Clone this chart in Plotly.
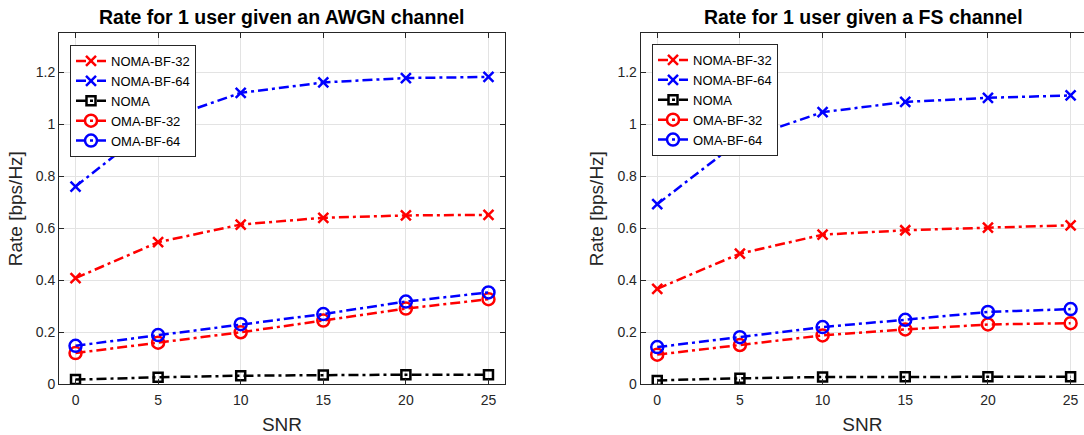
import plotly.graph_objects as go

# SNR points shared by every curve
snr = [0, 5, 10, 15, 20, 25]

# AWGN channel rates [bps/Hz]
awgn_noma_bf32 = [0.408, 0.546, 0.614, 0.640, 0.649, 0.651]
awgn_noma_bf64 = [0.760, 1.010, 1.120, 1.160, 1.177, 1.181]
awgn_noma      = [0.018, 0.027, 0.033, 0.036, 0.037, 0.037]
awgn_oma_bf32  = [0.120, 0.160, 0.200, 0.245, 0.291, 0.327]
awgn_oma_bf64  = [0.148, 0.189, 0.231, 0.270, 0.318, 0.353]

# Frequency-selective channel rates [bps/Hz]
fs_noma_bf32 = [0.367, 0.502, 0.575, 0.592, 0.602, 0.611]
fs_noma_bf64 = [0.692, 0.937, 1.046, 1.085, 1.101, 1.110]
fs_noma      = [0.015, 0.023, 0.028, 0.029, 0.029, 0.029]
fs_oma_bf32  = [0.114, 0.151, 0.188, 0.211, 0.230, 0.235]
fs_oma_bf64  = [0.143, 0.181, 0.220, 0.248, 0.278, 0.289]

series_names = ["NOMA-BF-32", "NOMA-BF-64", "NOMA", "OMA-BF-32", "OMA-BF-64"]
titles = ["Rate for 1 user given an AWGN channel", "Rate for 1 user given a FS channel"]
yticks = [0, 0.2, 0.4, 0.6, 0.8, 1, 1.2]
ytick_text = ["0", "0.2", "0.4", "0.6", "0.8", "1", "1.2"]
xticks = [0, 5, 10, 15, 20, 25]

styles = [
    dict(color="#ff0000", symbol="x-thin-open", size=10),
    dict(color="#0000ff", symbol="x-thin-open", size=10),
    dict(color="#000000", symbol="square-open", size=9),
    dict(color="#ff0000", symbol="circle-open", size=12),
    dict(color="#0000ff", symbol="circle-open", size=12),
]

FONT = "Liberation Sans, Arial, Helvetica, sans-serif"
AX = "#262626"
GRID = "#e3e3e3"
DASH = "10px,4px,3px,4px"

fig = go.Figure()

panels = [
    (["x", "y"], "legend", [awgn_noma_bf32, awgn_noma_bf64, awgn_noma, awgn_oma_bf32, awgn_oma_bf64]),
    (["x2", "y2"], "legend2", [fs_noma_bf32, fs_noma_bf64, fs_noma, fs_oma_bf32, fs_oma_bf64]),
]

for (xa, ya), leg, data in panels:
    for name, st, vals in zip(series_names, styles, data):
        fig.add_trace(go.Scatter(
            x=snr, y=vals, name=name, mode="lines+markers",
            xaxis=xa, yaxis=ya, legend=leg,
            line=dict(color=st["color"], width=2.5, dash=DASH),
            marker=dict(symbol=st["symbol"], size=st["size"], color=st["color"],
                        line=dict(color=st["color"], width=2.5)),
        ))

W, H = 1084, 435
y_dom = [(H - 384.3) / H, (H - 33) / H]

def xaxis(domain, rng, anchor):
    return dict(domain=domain, range=rng, anchor=anchor, tickvals=xticks,
                ticks="inside", ticklen=5, tickcolor=AX, showline=True, linecolor=AX,
                linewidth=1, mirror="ticks", showgrid=True, gridcolor=GRID, zeroline=False,
                automargin=False, ticklabelstandoff=3,
                tickfont=dict(family=FONT, size=14, color=AX),
                title=dict(text="SNR", font=dict(family=FONT, size=19, color=AX), standoff=10))

def yaxis(anchor, mirror):
    return dict(domain=y_dom, range=[0, 1.35], anchor=anchor, tickvals=yticks,
                ticktext=ytick_text, ticks="inside", ticklen=5, tickcolor=AX,
                showline=True, linecolor=AX, linewidth=1, mirror=mirror,
                showgrid=True, gridcolor=GRID, zeroline=False, automargin=False,
                tickfont=dict(family=FONT, size=14, color=AX),
                title=dict(text="Rate [bps/Hz]", font=dict(family=FONT, size=19, color=AX),
                           standoff=8))

legend_style = dict(bgcolor="white", bordercolor="#262626", borderwidth=1,
                    font=dict(family=FONT, size=13, color="#000000"),
                    xanchor="left", yanchor="top", tracegroupgap=0,
                    itemwidth=30)

fig.update_layout(
    width=W, height=H,
    margin=dict(l=0, r=0, t=0, b=0, autoexpand=False),
    paper_bgcolor="white", plot_bgcolor="white",
    showlegend=True,
    xaxis=xaxis([59 / W, 505 / W], [-1, 26], "y"),
    yaxis=yaxis("x", "ticks"),
    xaxis2=xaxis([640.7 / W, 1.0], [-1, 25.81], "y2"),
    yaxis2=yaxis("x2", False),
    legend=dict(x=70 / W, y=(H - 45) / H, **legend_style),
    legend2=dict(x=652 / W, y=(H - 44) / H, **legend_style),
    annotations=[
        dict(text="<b>%s</b>" % titles[0], x=(59 + 505) / 2 / W, y=(H - 17) / H,
             xref="paper", yref="paper", showarrow=False, xanchor="center", yanchor="middle",
             font=dict(family=FONT, size=19.5, color="#000000")),
        dict(text="<b>%s</b>" % titles[1], x=(640.7 + 1087) / 2 / W, y=(H - 17) / H,
             xref="paper", yref="paper", showarrow=False, xanchor="center", yanchor="middle",
             font=dict(family=FONT, size=19.5, color="#000000")),
    ],
)

fig.write_html("out.html")
